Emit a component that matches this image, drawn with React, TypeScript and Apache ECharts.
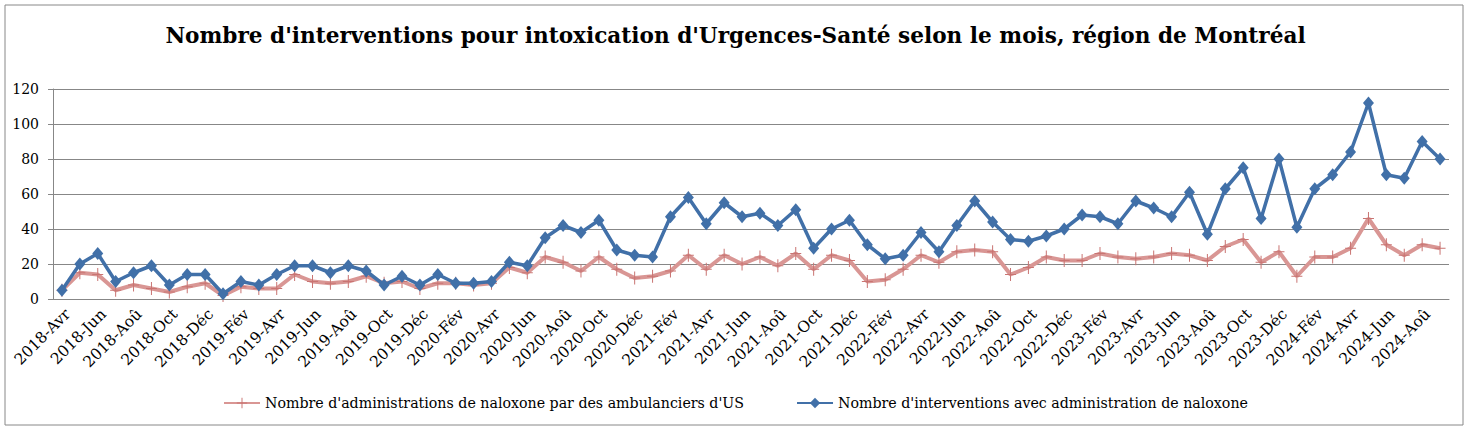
import React, { useEffect, useRef } from "react";
import * as echarts from "echarts";

const months = ["Jan", "Fév", "Mar", "Avr", "Mai", "Jun", "Jul", "Aoû", "Sep", "Oct", "Nov", "Déc"];
const years = [2018, 2019, 2020, 2021, 2022, 2023, 2024];

const categories: string[] = [];
years.forEach((y) => {
  months.forEach((m, i) => {
    if (y === 2018 && i < 3) return;
    if (y === 2024 && i > 8) return;
    categories.push(`${y}-${m}`);
  });
});

const seriesAmbulanciers = [
  5, 15, 14, 5, 8, 6, 4, 7, 9, 2, 7, 6,
  6, 14, 10, 9, 10, 13, 9, 10, 6, 9, 9, 8,
  9, 18, 15, 24, 21, 16, 24, 17, 12, 13, 16, 25,
  17, 25, 20, 24, 19, 26, 17, 25, 22, 10, 11, 17,
  25, 21, 27, 28, 27, 14, 18, 24, 22, 22, 26, 24,
  23, 24, 26, 25, 22, 30, 34, 21, 27, 13, 24, 24,
  29, 46, 31, 25, 31, 29,
];

const seriesInterventions = [
  5, 20, 26, 10, 15, 19, 8, 14, 14, 3, 10, 8,
  14, 19, 19, 15, 19, 16, 8, 13, 8, 14, 9, 9,
  10, 21, 19, 35, 42, 38, 45, 28, 25, 24, 47, 58,
  43, 55, 47, 49, 42, 51, 29, 40, 45, 31, 23, 25,
  38, 27, 42, 56, 44, 34, 33, 36, 40, 48, 47, 43,
  56, 52, 47, 61, 37, 63, 75, 46, 80, 41, 63, 71,
  84, 112, 71, 69, 90, 80,
];

const yTicks = { min: 0, max: 120, interval: 20 };

const titleText = "Nombre d'interventions pour intoxication d'Urgences-Santé selon le mois, région de Montréal";
const nameAmbulanciers = "Nombre d'administrations de naloxone par des ambulanciers d'US";
const nameInterventions = "Nombre d'interventions avec administration de naloxone";

const SERIF = "DejaVu Serif";
const PLUS = "path://M5,0h1v6h5v1h-5v6h-1v-6h-5v-1h5z";

export default function App() {
  const ref = useRef<HTMLDivElement>(null);
  useEffect(() => {
    document.body.style.margin = "0";
    const chart = echarts.init(ref.current!, undefined, { renderer: "svg" });
    chart.setOption({
      animation: false,
      backgroundColor: "#ffffff",
      title: {
        text: titleText,
        left: "center",
        top: 19,
        textStyle: { fontFamily: SERIF, fontWeight: "bold", fontSize: 21.6, color: "#000" },
      },
      graphic: [
        {
          type: "rect",
          shape: { x: 5, y: 5, width: 1458, height: 420 },
          style: { fill: "none", stroke: "#888888", lineWidth: 1 },
          silent: true,
        },
      ],
      legend: {
        left: 218,
        top: 391,
        itemGap: 52,
        itemWidth: 36,
        itemHeight: 13,
        textStyle: { fontFamily: SERIF, fontSize: 14.2, color: "#000" },
        data: [nameAmbulanciers, nameInterventions],
      },
      grid: { left: 53, right: 22, top: 89, bottom: 132 },
      xAxis: {
        type: "category",
        data: categories,
        boundaryGap: true,
        axisLine: { lineStyle: { color: "#878787" } },
        axisTick: { interval: 0, length: 5, lineStyle: { color: "#878787" } },
        axisLabel: {
          interval: 1,
          rotate: 45,
          fontFamily: SERIF,
          fontSize: 15.5,
          color: "#000",
          margin: 7,
          verticalAlign: "top",
        },
      },
      yAxis: {
        type: "value",
        min: yTicks.min,
        max: yTicks.max,
        interval: yTicks.interval,
        axisLine: { show: true, lineStyle: { color: "#878787" } },
        axisTick: { show: true, length: 5, lineStyle: { color: "#878787" } },
        axisLabel: { fontFamily: SERIF, fontSize: 14, color: "#000", margin: 14 },
        splitLine: { lineStyle: { color: "#878787", width: 1 } },
      },
      series: [
        {
          name: nameAmbulanciers,
          type: "line",
          data: seriesAmbulanciers,
          symbol: PLUS,
          symbolSize: [11, 13],
          showAllSymbol: true,
          itemStyle: { color: "#c97472" },
          lineStyle: { color: "#d99694", width: 4 },
          z: 2,
        },
        {
          name: nameInterventions,
          type: "line",
          data: seriesInterventions,
          symbol: "diamond",
          symbolSize: [11, 13],
          showAllSymbol: true,
          itemStyle: { color: "#4170a8" },
          lineStyle: { color: "#4170a8", width: 3.5 },
          z: 3,
        },
      ],
    });
    return () => chart.dispose();
  }, []);
  return <div ref={ref} style={{ width: 1471, height: 431 }} />;
}
